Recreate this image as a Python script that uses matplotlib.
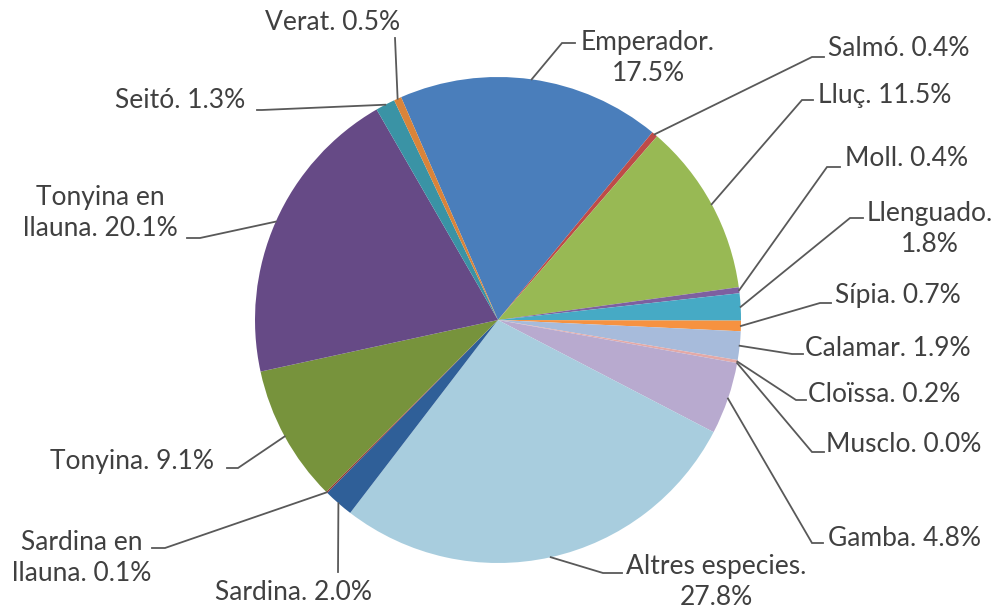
import numpy as np
import matplotlib
matplotlib.use("Agg")
import matplotlib.pyplot as plt

plt.rcParams["font.family"] = ["Lato", "DejaVu Sans"]

# data
names = ["Emperador", "Salmó", "Lluç", "Moll", "Llenguado", "Sípia", "Calamar",
         "Cloïssa", "Musclo", "Gamba", "Altres especies", "Sardina",
         "Sardina en\nllauna", "Tonyina", "Tonyina en\nllauna", "Seitó", "Verat"]
shares = [17.5, 0.4, 11.5, 0.4, 1.8, 0.7, 1.9, 0.2, 0.0, 4.8, 27.8, 2.0,
          0.1, 9.1, 20.1, 1.3, 0.5]
pct_text = ["17.5%", "0.4%", "11.5%", "0.4%", "1.8%", "0.7%", "1.9%", "0.2%",
            "0.0%", "4.8%", "27.8%", "2.0%", "0.1%", "9.1%", "20.1%", "1.3%", "0.5%"]
colors = ["#4A7EBB", "#BE4B48", "#98B954", "#7D60A0", "#46AAC5", "#F69240",
          "#A7BBDB", "#E3A9A7", "#C5D9A0", "#B8AACF", "#A8CDDE", "#2F5F98",
          "#953735", "#77933C", "#664A86", "#3A93A5", "#D9843A"]

# label layout in pixels, y from top: text x, text y, ha, two lines,
# stub end near the text, stub start
W, H = 998, 610
layout = [
    (648, 58, "center", True, (575, 43), (562, 43)),
    (828, 48, "left", False, (824, 57), (812, 57)),
    (818, 95, "left", False, (813, 100), (802, 100)),
    (845, 158, "left", False, (840, 167), (827, 167)),
    (930, 229, "center", True, (863, 218), (850, 218)),
    (835, 296, "left", False, (831, 303), (820, 303)),
    (805, 349, "left", False, (803, 354), (792, 354)),
    (808, 394, "left", False, (806, 400), (796, 400)),
    (826, 445, "left", False, (824, 452), (812, 452)),
    (828, 538, "left", False, (823, 543), (812, 543)),
    (716, 582, "center", True, (622, 573), (603, 573)),
    (294, 592, "center", False, (338, 572), (338, 572)),
    (82, 558, "center", True, (152, 548), (165, 548)),
    (50, 461, "left", False, (227, 468), (238, 468)),
    (100, 213, "center", True, (187, 238), (200, 238)),
    (115, 100, "left", False, (257, 110), (262, 110)),
    (265, 22, "left", False, (395, 38), (395, 38)),
]

cx, cy, r = 498, H - 320, 243

fig = plt.figure(figsize=(W / 100, H / 100), dpi=100)
ax = fig.add_axes([0, 0, 1, 1])

wedges, _ = ax.pie(shares, colors=colors, startangle=113.5, counterclock=False,
                   center=(cx, cy), radius=r, wedgeprops=dict(linewidth=0))
ax.set_xlim(0, W)
ax.set_ylim(0, H)
ax.set_aspect("equal")
ax.axis("off")

for w, name, pt, lay in zip(wedges, names, pct_text, layout):
    tx, ty, ha, two, (ax1, ay1), (ax2, ay2) = lay
    ang = np.deg2rad((w.theta1 + w.theta2) / 2)
    px, py = cx + r * np.cos(ang), cy + r * np.sin(ang)
    if two and "\n" not in name:
        label = f"{name}.\n{pt}"
    else:
        label = f"{name}. {pt}"
    ax.plot([px, ax2, ax1], [py, H - ay2, H - ay1], color="#595959", lw=1.3,
            solid_joinstyle="miter")
    ax.text(tx, H - ty, label, ha=ha, va="center", fontsize=19,
            color="#404040", linespacing=1.3)

fig.savefig("out.png", dpi=100)
